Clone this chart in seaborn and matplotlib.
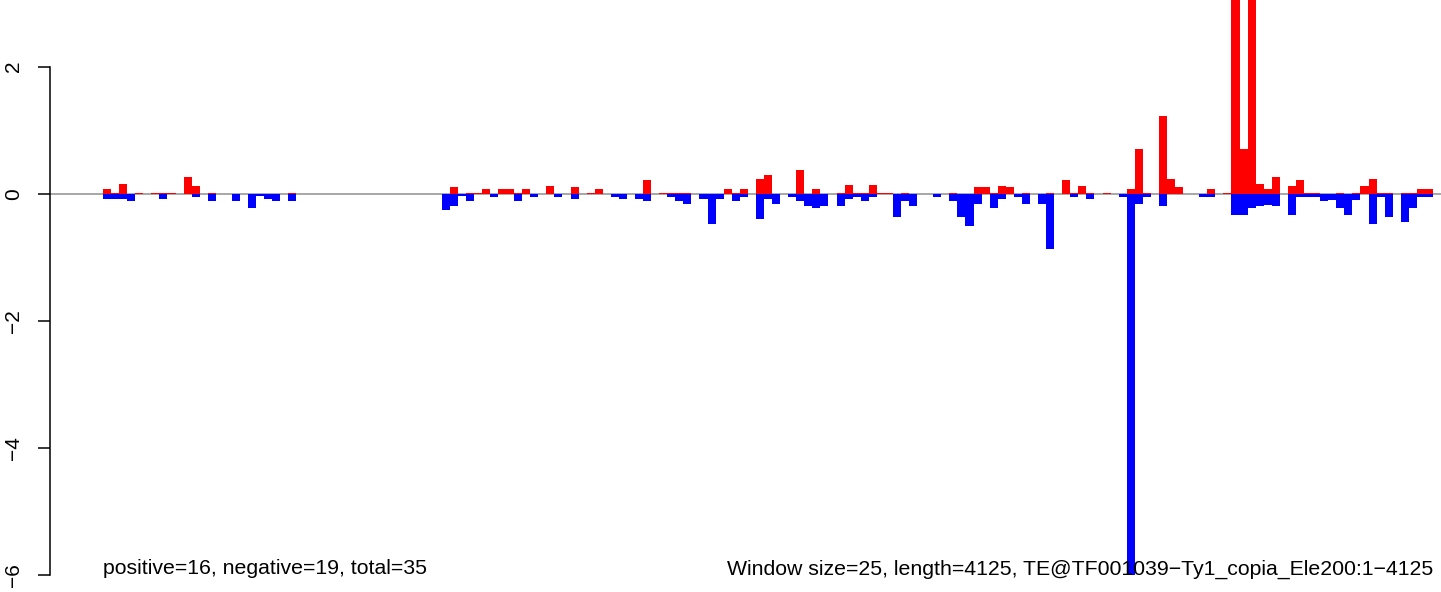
import numpy as np
import pandas as pd
import matplotlib
matplotlib.use("Agg")
import matplotlib.pyplot as plt
import seaborn as sns

# per-window scores, window size 25 over 4125 bp -> 165 windows
pos_scores = [
    0.07, 0.02, 0.16, 0, 0.02, 0, 0.02, 0.02, 0.02, 0,
    0.27, 0.13, 0, 0.02, 0, 0, 0, 0, 0, 0,
    0, 0, 0, 0.02, 0, 0, 0, 0, 0, 0,
    0, 0, 0, 0, 0, 0, 0, 0, 0, 0,
    0, 0, 0, 0.10, 0, 0.02, 0.02, 0.07, 0, 0.07,
    0.07, 0.02, 0.07, 0, 0, 0.13, 0, 0, 0.10, 0,
    0.02, 0.07, 0, 0, 0, 0, 0, 0.21, 0, 0.02,
    0.02, 0.02, 0.02, 0, 0, 0, 0, 0.07, 0.02, 0.07,
    0, 0.24, 0.30, 0, 0, 0, 0.38, 0, 0.07, 0,
    0, 0.02, 0.14, 0.02, 0.02, 0.14, 0.02, 0.02, 0, 0.02,
    0, 0, 0, 0, 0, 0.02, 0, 0, 0.10, 0.10,
    0.02, 0.13, 0.10, 0, 0.02, 0, 0, 0.02, 0, 0.21,
    0.02, 0.13, 0.02, 0, 0.02, 0, 0, 0.07, 0.70, 0.02,
    0, 1.23, 0.24, 0.10, 0, 0, 0, 0.07, 0, 0.02,
    4.2, 0.70, 4.5, 0.16, 0.07, 0.27, 0, 0.13, 0.21, 0.02,
    0.02, 0, 0, 0.02, 0, 0.02, 0.13, 0.24, 0.02, 0.02,
    0, 0.02, 0.02, 0.07, 0.07,
]
neg_scores = [
    -0.08, -0.08, -0.08, -0.12, 0, 0, 0, -0.08, 0, 0,
    0, -0.05, 0, -0.12, 0, 0, -0.12, 0, -0.23, -0.04,
    -0.08, -0.12, 0, -0.12, 0, 0, 0, 0, 0, 0,
    0, 0, 0, 0, 0, 0, 0, 0, 0, 0,
    0, 0, -0.26, -0.20, -0.03, -0.12, 0, 0, -0.05, 0,
    0, -0.12, 0, -0.05, 0, 0, -0.05, 0, -0.08, 0,
    0, 0, 0, -0.05, -0.08, 0, -0.08, -0.12, 0, 0,
    -0.05, -0.12, -0.16, 0, -0.08, -0.48, -0.08, 0, -0.12, -0.05,
    0, -0.40, -0.08, -0.16, 0, -0.05, -0.12, -0.19, -0.23, -0.19,
    0, -0.19, -0.08, -0.05, -0.12, -0.05, 0, 0, -0.37, -0.12,
    -0.19, 0, 0, -0.05, 0, -0.12, -0.37, -0.51, -0.16, 0,
    -0.23, -0.08, 0, -0.05, -0.16, 0, -0.16, -0.87, 0, 0,
    -0.05, 0, -0.08, 0, 0, 0, -0.05, -6.0, -0.16, -0.05,
    0, -0.19, 0, 0, 0, 0, -0.05, -0.05, 0, 0,
    -0.34, -0.34, -0.23, -0.20, -0.17, -0.20, 0, -0.34, -0.05, -0.05,
    -0.05, -0.12, -0.09, -0.23, -0.34, -0.09, 0, -0.48, -0.05, -0.37,
    0, -0.45, -0.23, -0.05, -0.05,
]
y_ticks = [-6, -4, -2, 0, 2]
left_note = "positive=16, negative=19, total=35"
right_note = "Window size=25, length=4125, TE@TF001039\u2212Ty1_copia_Ele200:1\u22124125"

df = pd.DataFrame({
    "window": np.arange(len(pos_scores)),
    "pos": pos_scores,
    "neg": neg_scores,
})

plt.rcParams["font.family"] = ["Liberation Sans", "DejaVu Sans"]

W, H = 1441, 592
fig = plt.figure(figsize=(W / 100, H / 100), dpi=100)
ax = fig.add_axes([50 / W, (H - 575) / H, 1 - 50 / W, 575 / H])

ax.axhline(0, color="#a0a0a0", lw=1.3, zorder=0)
sns.barplot(data=df, x="window", y="pos", color="#ff0000", saturation=1,
            width=1, errorbar=None, linewidth=0, ax=ax)
sns.barplot(data=df, x="window", y="neg", color="#0000ff", saturation=1,
            width=1, errorbar=None, linewidth=0, ax=ax)

# window edges at 103 and 1433 px
n = len(pos_scores)
px = (1433 - 103) / n
ax.set_xlim(-0.5 - 53 / px, n - 0.5 + 8 / px)
ax.set_ylim(-6, 3.05)

ax.xaxis.set_visible(False)
for s in ["top", "right", "bottom"]:
    ax.spines[s].set_visible(False)
ax.spines["left"].set_bounds(-6, 2)
ax.spines["left"].set_linewidth(1.1)
ax.set_yticks(y_ticks)
ax.set_yticklabels([str(t).replace("-", "\u2212") for t in y_ticks],
                   rotation=90, va="center", fontsize=15)
ax.tick_params(axis="y", length=8.6, width=1.1, pad=11)
ax.set_ylabel("")

ax.text(103 / W, (H - 569) / H, left_note, transform=fig.transFigure,
        ha="left", va="center", fontsize=15.3, zorder=10, clip_on=False)
ax.text(1433 / W, (H - 569) / H, right_note, transform=fig.transFigure,
        ha="right", va="center", fontsize=15.3, zorder=10, clip_on=False)

fig.savefig("out.png", dpi=100)
